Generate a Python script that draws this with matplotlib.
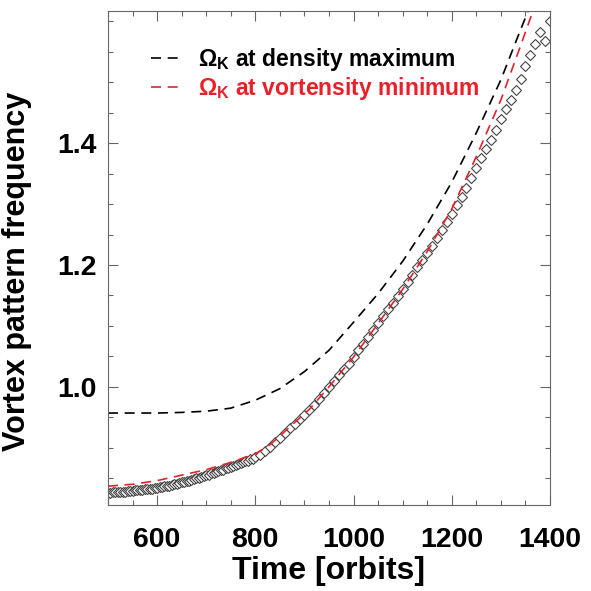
import numpy as np
import matplotlib
matplotlib.use('Agg')
import matplotlib.pyplot as plt

# fonts: bold Helvetica-like everywhere
plt.rcParams['font.family'] = ['Liberation Sans', 'DejaVu Sans']
plt.rcParams['font.weight'] = 'bold'
plt.rcParams['axes.labelweight'] = 'bold'
plt.rcParams['mathtext.fontset'] = 'custom'
plt.rcParams['mathtext.rm'] = 'Liberation Sans:bold'
plt.rcParams['mathtext.it'] = 'Liberation Sans:bold'
plt.rcParams['mathtext.bf'] = 'Liberation Sans:bold'

# measured pattern frequency (diamonds)
t_diam = np.concatenate([np.arange(500, 801, 5), np.arange(810, 1401, 10)])
f_diam = [
    0.826, 0.826, 0.827, 0.827, 0.827, 0.828, 0.828, 0.828, 0.829, 0.829, 0.829,
    0.830, 0.830, 0.831, 0.831, 0.832, 0.832, 0.833, 0.833, 0.834, 0.834,
    0.835, 0.836, 0.837, 0.838, 0.838, 0.839, 0.840, 0.841, 0.842, 0.843,
    0.844, 0.845, 0.846, 0.847, 0.849, 0.850, 0.851, 0.852, 0.854, 0.855,
    0.856, 0.858, 0.859, 0.860, 0.862, 0.863, 0.864, 0.866, 0.867, 0.869,
    0.870, 0.872, 0.873, 0.875, 0.876, 0.878, 0.879, 0.881, 0.882, 0.884,
    0.888, 0.895, 0.902, 0.909, 0.916, 0.924, 0.932, 0.939, 0.947, 0.954,
    0.962, 0.971, 0.980, 0.990, 1.000, 1.010, 1.019, 1.029, 1.038, 1.049,
    1.060, 1.071, 1.082, 1.093, 1.104, 1.116, 1.127, 1.138, 1.149, 1.160,
    1.172, 1.184, 1.196, 1.208, 1.220, 1.232, 1.245, 1.258, 1.271, 1.284,
    1.298, 1.312, 1.327, 1.343, 1.360, 1.376, 1.391, 1.406, 1.422, 1.440,
    1.456, 1.471, 1.487, 1.506, 1.526, 1.545, 1.562, 1.582, 1.567, 1.600,
]

# Omega_K at density maximum (black dashed)
t_dens = [500, 600, 650, 700, 750, 800, 850, 900, 950, 1000, 1050, 1100,
          1150, 1200, 1250, 1300, 1340, 1354, 1370]
f_dens = [0.957, 0.957, 0.958, 0.960, 0.965, 0.978, 0.997, 1.025, 1.060,
          1.106, 1.153, 1.206, 1.267, 1.336, 1.417, 1.504, 1.586, 1.614, 1.650]

# Omega_K at vortensity minimum (red dashed)
t_vort = [500, 550, 600, 650, 700, 750, 800, 830, 870, 910, 950, 1000, 1050,
          1100, 1150, 1200, 1250, 1300, 1337, 1364, 1385]
f_vort = [0.837, 0.840, 0.846, 0.855, 0.864, 0.876, 0.890, 0.905, 0.934,
          0.963, 1.000, 1.049, 1.104, 1.160, 1.222, 1.292, 1.378, 1.471,
          1.553, 1.614, 1.660]

fig = plt.figure(figsize=(5.91, 5.91), dpi=100)
ax = fig.add_axes([0.1827, 0.1455, 0.7479, 0.8359])

ax.plot(t_diam, f_diam, linestyle='none', marker='D', markersize=4.8,
        markerfacecolor='white', markeredgecolor='#444444', markeredgewidth=0.8)
ax.plot(t_dens, f_dens, color='black', lw=1.2, dashes=(6, 4),
        label=r'$\Omega_\mathregular{K}$ at density maximum')
ax.plot(t_vort, f_vort, color='#e8202a', lw=1.2, dashes=(6, 4),
        label=r'$\Omega_\mathregular{K}$ at vortensity minimum')

ax.set_xlim(500, 1400)
ax.set_ylim(0.806, 1.617)
ax.set_xticks([600, 800, 1000, 1200, 1400])
ax.set_yticks([1.0, 1.2, 1.4])
ax.set_xticks(np.arange(500, 1401, 50), minor=True)
ax.set_yticks(np.arange(0.85, 1.61, 0.05), minor=True)
ax.tick_params(which='both', direction='in', top=True, right=True,
               color='#666666', labelsize=20.5)
ax.tick_params(which='major', length=7, width=0.8)
ax.tick_params(which='minor', length=3.6, width=0.8)
ax.tick_params(axis='x', pad=16)
ax.tick_params(axis='y', pad=8)
for s in ax.spines.values():
    s.set_color('#666666')
    s.set_linewidth(0.8)

ax.set_xlabel('Time [orbits]', fontsize=23, labelpad=2)
ax.set_ylabel('Vortex pattern frequency', fontsize=22)
ax.yaxis.set_label_coords(-0.172, 0.472)

leg = ax.legend(loc='upper left', bbox_to_anchor=(0.098, 0.93), frameon=False,
                fontsize=16.5, handlelength=1.3, handletextpad=0.75,
                labelspacing=0.12, borderpad=0, borderaxespad=0,
                labelcolor='linecolor')

plt.savefig('out.png', dpi=100)
plt.close()
